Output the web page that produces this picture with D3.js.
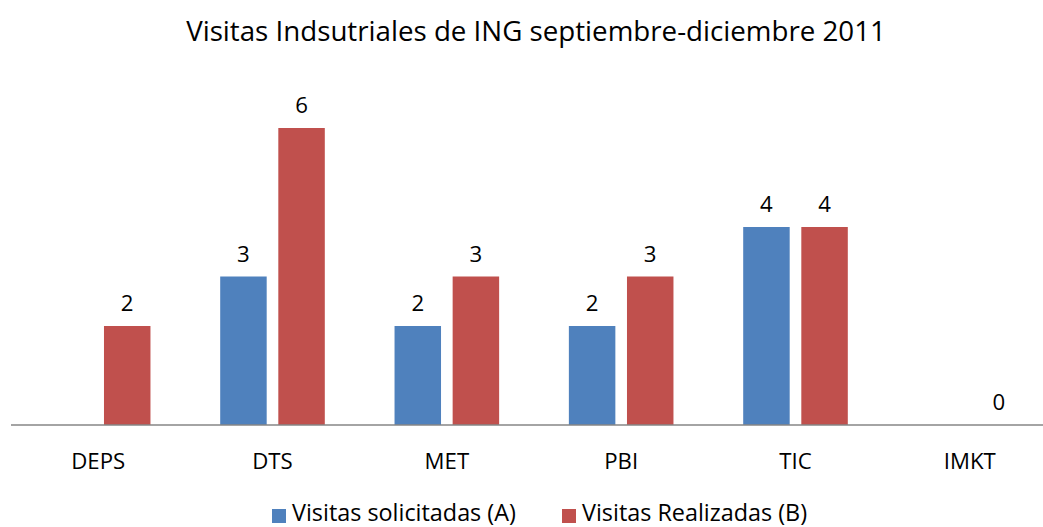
<!DOCTYPE html>
<html><head><meta charset="utf-8">
<script src="https://cdn.jsdelivr.net/npm/d3@7"></script>
<style>body{margin:0;background:#fff}svg{display:block;font-family:"Open Sans",sans-serif}</style>
</head><body><svg id="c" width="1043" height="527"></svg>
<script>
const categories = ["DEPS","DTS","MET","PBI","TIC","IMKT"];
const seriesNames = ["Visitas solicitadas (A)","Visitas Realizadas (B)"];
const solicitadas = [null,3,2,2,4,null];
const realizadas = [2,6,3,3,4,0];
const colors = ["#4F81BD","#C0504D"];
const title = "Visitas Indsutriales de ING septiembre-diciembre 2011";

const svg = d3.select("#c");
function fitSize(str, target){
  const t=svg.append("text").attr("font-size",20).text(str);
  const w=t.node().getComputedTextLength(); t.remove();
  return 20*target/w;
}
const fsTitle = fitSize(title,700);
const fsLeg = fitSize(seriesNames[0],224);
const fsAx = fitSize("DEPS",54);

const x = d3.scaleBand().domain(categories).range([11,1057]).paddingInner(0.4).paddingOuter(0.2);
const x1 = d3.scaleBand().domain([0,1]).range([0,x.bandwidth()]).paddingInner(0.2);
const y = d3.scaleLinear().domain([0,6]).range([425,128]);

const series=[solicitadas,realizadas];
series.forEach((vals,si)=>{
  const g=svg.append("g");
  categories.forEach((c,i)=>{
    const v=vals[i]; if(v==null) return;
    const bx=x(c)+x1(si);
    g.append("rect").attr("x",bx).attr("y",y(v)).attr("width",x1.bandwidth()).attr("height",y(0)-y(v)).attr("fill",colors[si]);
    g.append("text").attr("x",bx+x1.bandwidth()/2).attr("y",y(v)-15).attr("text-anchor","middle").attr("font-size",fsAx).attr("fill","#000").text(v);
  });
});

const axis=d3.axisBottom(x).tickSize(0).tickPadding(28);
const ag=svg.append("g").attr("transform","translate(0,425)").call(axis);
ag.select(".domain").attr("d","M11,0H1043").attr("stroke","#868686").attr("stroke-width",1.5);
ag.selectAll("text").attr("font-size",fsAx).attr("fill","#000").attr("font-family","'Open Sans',sans-serif");

svg.append("text").attr("x",536).attr("y",41).attr("text-anchor","middle").attr("font-size",fsTitle).attr("fill","#000").text(title);

const leg=[{x:272,tx:292},{x:562,tx:582}];
seriesNames.forEach((n,i)=>{
  svg.append("rect").attr("x",leg[i].x).attr("y",509).attr("width",14).attr("height",14).attr("fill",colors[i]);
  svg.append("text").attr("x",leg[i].tx).attr("y",521).attr("font-size",fsLeg).attr("fill","#000").text(n);
});
</script></body></html>
